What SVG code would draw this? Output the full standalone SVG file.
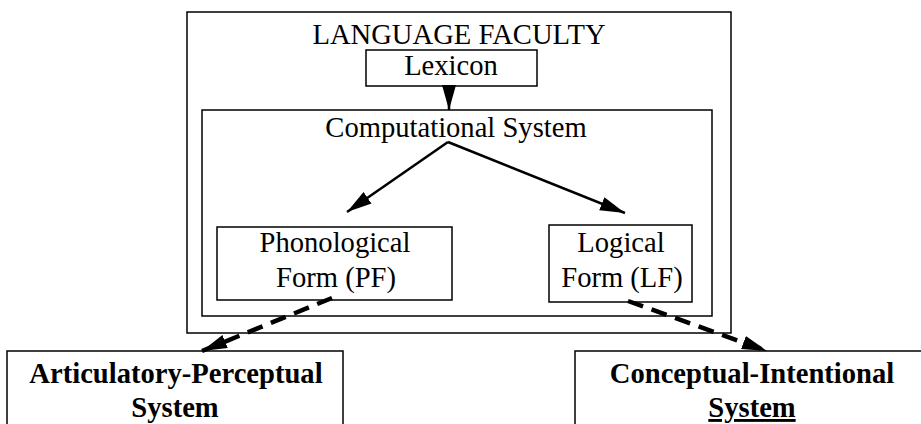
<svg xmlns="http://www.w3.org/2000/svg" width="921" height="424" viewBox="0 0 921 424">
<style>
.box{fill:none;stroke:#000;stroke-width:1.5}
.t{font-family:"Liberation Serif","Times New Roman",serif;font-size:28.6px;fill:#000;text-anchor:middle}
.b{font-weight:bold}
.solid{stroke:#000;stroke-width:2.5;fill:none}
.dash{stroke:#000;stroke-width:4.5;fill:none;stroke-dasharray:16 9}
</style>
<defs>
<marker id="ah" markerUnits="userSpaceOnUse" markerWidth="26" markerHeight="18" refX="25" refY="9" orient="auto">
<path d="M0,2 L25,9 L0,16 Z" fill="#000"/>
</marker>
<marker id="ahd" markerUnits="userSpaceOnUse" markerWidth="26" markerHeight="18" refX="25" refY="9" orient="auto">
<path d="M0,2 L25,9 L0,16 Z" fill="#000"/>
</marker>
</defs>
<g id="language-faculty">
<rect class="box" x="187" y="12" width="544" height="321"/>
<text class="t" x="459" y="44">LANGUAGE FACULTY</text>
</g>
<g id="lexicon">
<rect class="box" x="366" y="50" width="171" height="36"/>
<text class="t" x="451" y="75">Lexicon</text>
</g>
<g id="computational-system">
<rect class="box" x="202" y="110" width="510" height="206"/>
<text class="t" x="456" y="137">Computational System</text>
</g>
<g id="pf">
<rect class="box" x="217" y="227" width="235" height="73"/>
<text class="t" x="335" y="252">Phonological</text>
<text class="t" x="336" y="287">Form (PF)</text>
</g>
<g id="lf">
<rect class="box" x="549" y="225" width="143" height="77"/>
<text class="t" x="621" y="252">Logical</text>
<text class="t" x="622" y="287">Form (LF)</text>
</g>
<g id="articulatory-perceptual">
<rect class="box" x="7" y="351" width="336" height="80"/>
<text class="t b" x="176" y="383">Articulatory-Perceptual</text>
<text class="t b" x="175" y="417">System</text>
</g>
<g id="conceptual-intentional">
<rect class="box" x="575" y="351" width="360" height="80"/>
<text class="t b" x="752" y="383">Conceptual-Intentional</text>
<text class="t b" x="752" y="417" text-decoration="underline">System</text>
</g>
<g id="connectors">
<line class="solid" x1="449" y1="86" x2="449" y2="110" marker-end="url(#ah)"/>
<line class="solid" x1="448" y1="142" x2="347" y2="212" marker-end="url(#ah)"/>
<line class="solid" x1="448" y1="142" x2="625" y2="213" marker-end="url(#ah)"/>
<line class="dash" x1="332" y1="298" x2="202" y2="351" marker-end="url(#ahd)"/>
<line class="dash" x1="628" y1="301" x2="767" y2="351" marker-end="url(#ahd)"/>
</g>
</svg>
